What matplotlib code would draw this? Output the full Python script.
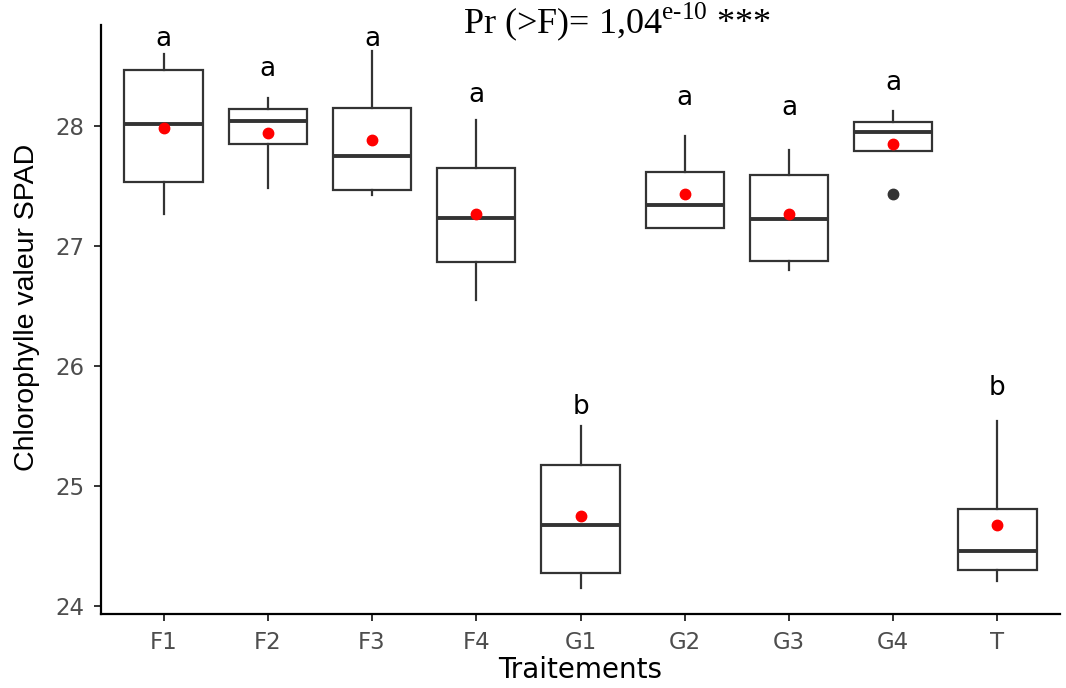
import matplotlib
matplotlib.use('Agg')
import matplotlib.pyplot as plt

# values
groups = ['F1', 'F2', 'F3', 'F4', 'G1', 'G2', 'G3', 'G4', 'T']
whis_low = [27.26, 27.48, 27.42, 26.55, 24.15, 27.15, 26.80, 27.79, 24.21]
q1 = [27.53, 27.85, 27.46, 26.86, 24.27, 27.15, 26.87, 27.79, 24.30]
median = [28.01, 28.04, 27.75, 27.23, 24.67, 27.34, 27.22, 27.95, 24.46]
q3 = [28.46, 28.14, 28.15, 27.65, 25.17, 27.61, 27.59, 28.03, 24.81]
whis_high = [28.60, 28.23, 28.62, 28.05, 25.50, 27.91, 27.80, 28.12, 25.54]
means = [27.98, 27.94, 27.88, 27.26, 24.75, 27.43, 27.26, 27.85, 24.67]
outliers = [[], [], [], [], [], [], [], [27.43], []]

# letters of the mean comparison and where they sit
letters = ['a', 'a', 'a', 'a', 'b', 'a', 'a', 'a', 'b']
letter_y = [28.66, 28.41, 28.66, 28.20, 25.60, 28.17, 28.09, 28.30, 25.76]

plt.rcParams['mathtext.fontset'] = 'custom'
plt.rcParams['mathtext.rm'] = 'Liberation Serif'

fig = plt.figure(figsize=(10.66, 6.88), dpi=100)
ax = fig.add_axes([101/1066, 1-614/688, 959/1066, 589/688])

stats = []
for i in range(len(groups)):
    stats.append({'label': groups[i], 'whislo': whis_low[i], 'q1': q1[i], 'med': median[i],
                  'q3': q3[i], 'whishi': whis_high[i], 'mean': means[i], 'fliers': outliers[i]})

pos = list(range(1, len(groups)+1))
ax.bxp(stats, positions=pos, widths=0.75, showcaps=False, showmeans=True, patch_artist=True,
       boxprops=dict(facecolor='white', edgecolor='#333333', linewidth=1.6),
       whiskerprops=dict(color='#333333', linewidth=1.6),
       medianprops=dict(color='#333333', linewidth=2.8, solid_capstyle='butt'),
       meanprops=dict(marker='o', markerfacecolor='red', markeredgecolor='red', markersize=7.5),
       flierprops=dict(marker='o', markerfacecolor='#333333', markeredgecolor='#333333', markersize=7.5))

for i in range(len(groups)):
    ax.text(pos[i], letter_y[i], letters[i], ha='center', va='baseline', fontsize=19, color='black')

ax.set_xlim(0.4, 9.6)
ax.set_ylim(23.931, 28.839)
ax.set_yticks([24, 25, 26, 27, 28])

for s in ['top', 'right']:
    ax.spines[s].set_visible(False)
for s in ['left', 'bottom']:
    ax.spines[s].set_linewidth(1.6)
    ax.spines[s].set_color('black')

ax.tick_params(axis='both', colors='#333333', length=5, width=1.4, labelsize=16.5, labelcolor='#4D4D4D')
ax.tick_params(axis='y', pad=7)
ax.tick_params(axis='x', pad=7)

ax.set_xlabel('Traitements', fontsize=20, color='black')
ax.xaxis.set_label_coords(0.5, -0.072)
ax.set_ylabel('Chlorophylle valeur SPAD', fontsize=20.5, color='black',
              family=['Liberation Sans Narrow', 'Liberation Sans'])
ax.yaxis.set_label_coords(-0.064, 0.52)

fig.text(617/1066, 1-33/688, r'Pr (>F)= 1,04$^{\mathrm{e\text{-}10}}$ ***', ha='center', va='baseline',
         fontsize=26, family='Liberation Serif')

fig.savefig('out.png', dpi=100)
